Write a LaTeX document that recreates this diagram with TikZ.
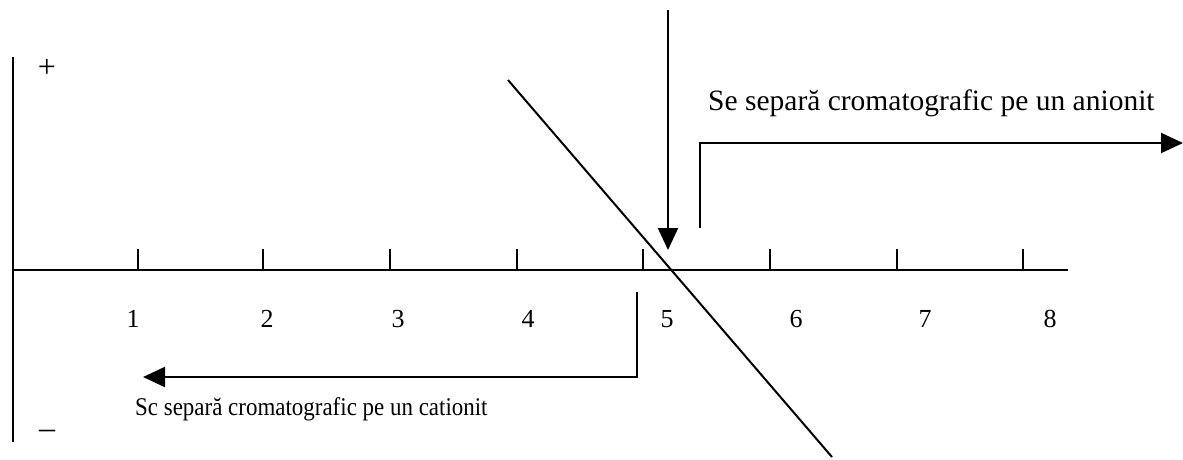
\documentclass[tikz,border=0pt]{standalone}
\usepackage{fontspec}
\setmainfont{Liberation Serif}
\usetikzlibrary{arrows.meta}
\begin{document}
\begin{tikzpicture}[x=1pt,y=-1pt,
  ln/.style={line width=2pt},
  arr/.style={ln,-{Triangle[length=22pt,width=20pt]}},
  lbltop/.style={font=\fontsize{29.5}{34}\selectfont,inner sep=0pt},
  lblbot/.style={font=\fontsize{25.5}{30}\selectfont,inner sep=0pt,xscale=0.9},
  num/.style={font=\fontsize{26}{30}\selectfont,inner sep=0pt},
  sign/.style={font=\fontsize{32}{36}\selectfont,inner sep=0pt}]
\useasboundingbox (0,0) rectangle (1183,459);
% axes
\coordinate (vtop) at (13,57);
\coordinate (vbot) at (13,442);
\coordinate (o) at (13,270);
\coordinate (hend) at (1068,270);
\draw[ln] (vtop) -- (vbot);
\draw[ln] (o) -- (hend);
\node[sign] (plus) at (47,68) {+};
\node[sign] (minus) at (47,434) {\textendash};
% ticks and numbers
\foreach \x/\n/\lx in {138/1/133, 263/2/267, 390/3/398, 517/4/528, 643/5/667, 770/6/796, 897/7/925, 1023/8/1050}{
  \draw[ln] (\x,270) -- (\x,249);
  \node[num,anchor=base] (n\n) at (\lx,327) {\n};
}
% diagonal
\coordinate (d1) at (508,80);
\coordinate (d2) at (832,457);
\draw[ln] (d1) -- (d2);
% vertical arrow
\coordinate (va) at (668,10);
\coordinate (vb) at (668,250);
\draw[arr] (va) -- (vb);
% right bracket arrow
\coordinate (r1) at (700,228);
\coordinate (r2) at (700,143);
\coordinate (r3) at (1183,143);
\draw[arr] (r1) -- (r2) -- (r3);
\node[lbltop,anchor=base west] (tr) at (708,110) {Se separă cromatografic pe un anionit};
% left bracket arrow
\coordinate (l1) at (637,292);
\coordinate (l2) at (637,377);
\coordinate (l3) at (143,377);
\draw[arr] (l1) -- (l2) -- (l3);
\node[lblbot,anchor=base west] (tl) at (135,415) {Sc separă cromatografic pe un cationit};
\end{tikzpicture}
\end{document}
